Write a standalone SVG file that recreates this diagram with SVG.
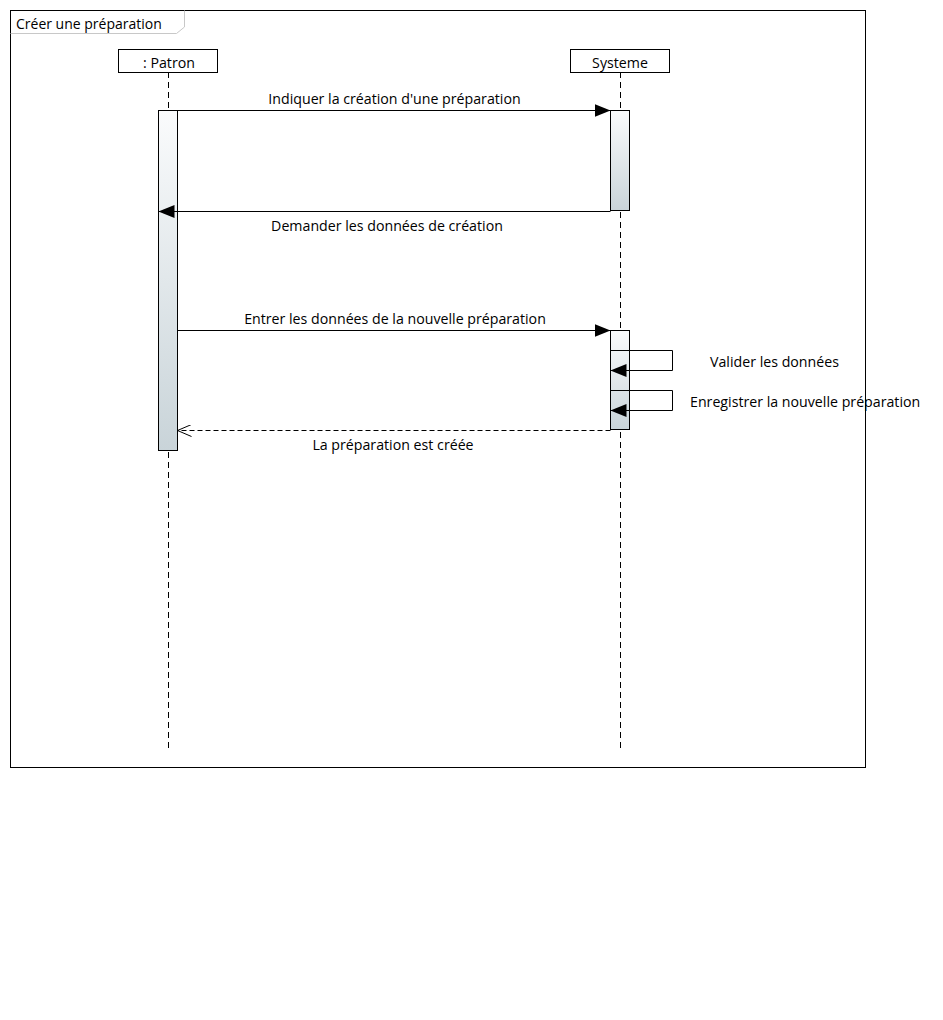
<svg xmlns="http://www.w3.org/2000/svg" width="943" height="1020" viewBox="0 0 943 1020">
<defs>
<linearGradient id="act" x1="0" y1="0" x2="0" y2="1">
<stop offset="0" stop-color="#fafbfc"/>
<stop offset="1" stop-color="#c9d4d9"/>
</linearGradient>
<marker id="fill" viewBox="0 0 16 13" refX="16" refY="6.5" markerWidth="16" markerHeight="13" markerUnits="userSpaceOnUse" orient="auto">
<path d="M0,0 L16,6.5 L0,13 Z" fill="#000"/>
</marker>
<marker id="open" viewBox="0 0 14 12" refX="14" refY="6" markerWidth="14" markerHeight="12" markerUnits="userSpaceOnUse" orient="auto">
<path d="M0,0 L14,6 L0,12" fill="none" stroke="#000" stroke-width="1"/>
</marker>
</defs>
<style>
text{font-family:"Open Sans","Liberation Sans",sans-serif;font-size:14.2px;fill:#000}
.title{font-size:14px}
.box{fill:#fff;stroke:#000;stroke-width:1}
.life{stroke:#000;stroke-width:1;stroke-dasharray:6,4;fill:none}
.act{fill:url(#act);stroke:#000;stroke-width:1}
.msg{stroke:#000;stroke-width:1;fill:none}
</style>
<rect x="0" y="0" width="943" height="1020" fill="#fff"/>
<g id="frame">
<rect x="10.5" y="10.5" width="855" height="757" fill="none" stroke="#000"/>
<path d="M10.5,33.5 H176.5 L184.5,27 V10.5" fill="none" stroke="#c8c8c8"/>
<text class="title" x="16" y="29">Créer une préparation</text>
</g>
<g id="patron">
<rect class="box" x="118.5" y="49.5" width="99" height="23"/>
<text x="169" y="68" text-anchor="middle">: Patron</text>
<line class="life" x1="168.5" y1="72" x2="168.5" y2="748"/>
<rect class="act" x="158.5" y="110.5" width="19" height="340"/>
</g>
<g id="systeme">
<rect class="box" x="570.5" y="49.5" width="99" height="23"/>
<text x="620" y="68" text-anchor="middle">Systeme</text>
<line class="life" x1="620.5" y1="72" x2="620.5" y2="748"/>
<rect class="act" x="610.5" y="110.5" width="19" height="100"/>
<rect class="act" x="610.5" y="330.5" width="19" height="99"/>
</g>
<g id="connectors">
<line class="msg" x1="177.5" y1="110.5" x2="610.5" y2="110.5" marker-end="url(#fill)"/>
<text x="394.5" y="104" text-anchor="middle">Indiquer la création d'une préparation</text>
<line class="msg" x1="610.5" y1="211.5" x2="158.5" y2="211.5" marker-end="url(#fill)"/>
<text x="387" y="231" text-anchor="middle">Demander les données de création</text>
<line class="msg" x1="177.5" y1="330.5" x2="610.5" y2="330.5" marker-end="url(#fill)"/>
<text x="395" y="324" text-anchor="middle">Entrer les données de la nouvelle préparation</text>
<path class="msg" d="M610.5,350.5 H672.5 V370.5 H610.5" marker-end="url(#fill)"/>
<text x="710" y="367">Valider les données</text>
<path class="msg" d="M610.5,390.5 H672.5 V410.5 H610.5" marker-end="url(#fill)"/>
<text x="690" y="407">Enregistrer la nouvelle préparation</text>
<line class="msg" x1="610.5" y1="430.5" x2="177.5" y2="430.5" stroke-dasharray="5,3" marker-end="url(#open)"/>
<text x="393" y="450" text-anchor="middle">La préparation est créée</text>
</g>
</svg>
